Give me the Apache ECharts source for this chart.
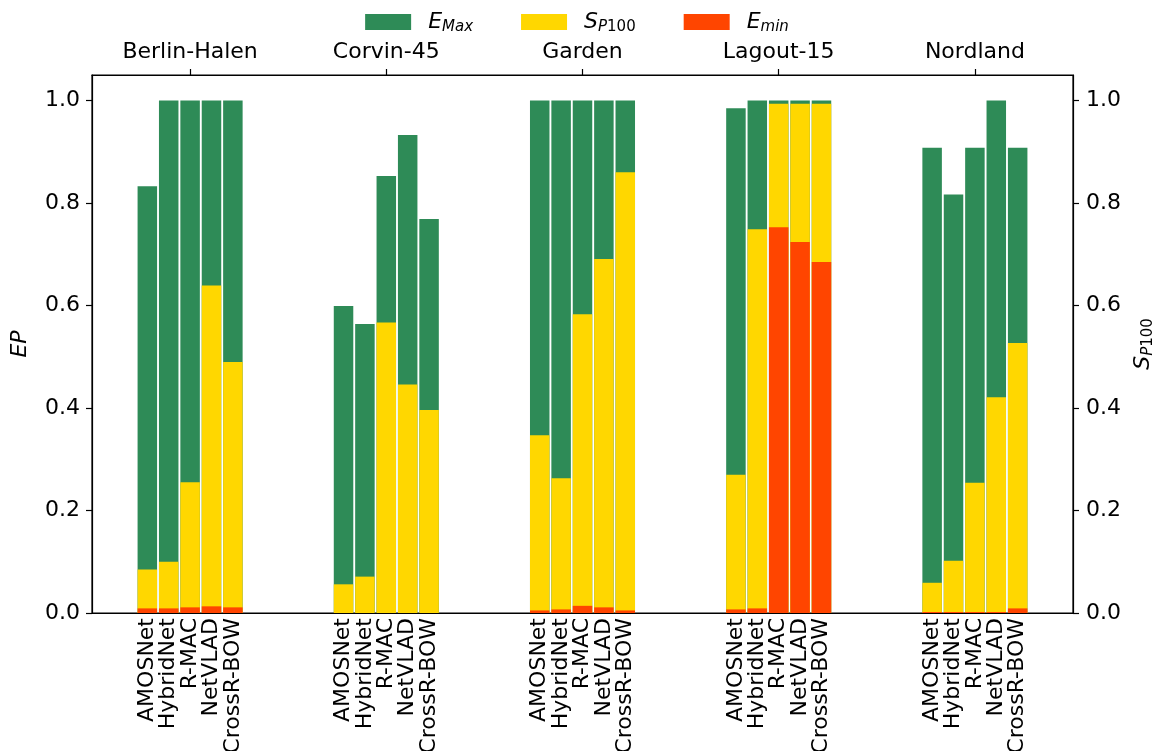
<!DOCTYPE html>
<html>
<head>
<meta charset="utf-8">
<script src="https://cdn.jsdelivr.net/npm/echarts@6/dist/echarts.min.js"></script>
<style>
  html, body { margin: 0; padding: 0; background: #fff; }
  #chart { width: 1154px; height: 751px; }
</style>
</head>
<body>
<div id="chart"></div>
<script>
const groups = ['Berlin-Halen', 'Corvin-45', 'Garden', 'Lagout-15', 'Nordland'];
const methods = ['AMOSNet', 'HybridNet', 'R-MAC', 'NetVLAD', 'CrossR-BOW'];

// one row per group, one value per method
const eMax = [
  [0.833, 1.0, 1.0, 1.0, 1.0],
  [0.599, 0.564, 0.853, 0.933, 0.769],
  [1.0, 1.0, 1.0, 1.0, 1.0],
  [0.985, 1.0, 1.0, 1.0, 1.0],
  [0.908, 0.817, 0.908, 1.0, 0.908]
];
const sP100 = [
  [0.085, 0.100, 0.255, 0.639, 0.490],
  [0.056, 0.071, 0.567, 0.446, 0.396],
  [0.347, 0.263, 0.583, 0.691, 0.860],
  [0.270, 0.749, 0.994, 0.994, 0.994],
  [0.059, 0.102, 0.254, 0.421, 0.527]
];
const eMin = [
  [0.009, 0.009, 0.011, 0.013, 0.011],
  [0, 0, 0, 0, 0],
  [0.005, 0.007, 0.014, 0.011, 0.005],
  [0.007, 0.009, 0.753, 0.724, 0.685],
  [0.002, 0.002, 0.002, 0.002, 0.009]
];
const yTicks = [0, 0.2, 0.4, 0.6, 0.8, 1.0];
const groupTicks = [0, 1, 2, 3, 4];

const FONT = 'DejaVu Sans';
const STEP = 0.109; // bar pitch inside a group, in group units

const positions = [];
groups.forEach((g, gi) => methods.forEach((m, mi) => positions.push(gi + (mi - 2) * STEP)));

// method labels are split over two bottom axes so echarts' min/max overlap check keeps them all
const posEven = positions.filter((p, k) => (k % 5) % 2 === 0);
const posOdd = positions.filter((p, k) => (k % 5) % 2 === 1);

const toPoints = rows => {
  const out = [];
  rows.forEach((row, gi) => row.forEach((v, mi) => out.push([positions[gi * 5 + mi], v])));
  return out;
};

// nearest bar position -> method name
const methodAt = v => {
  let best = -1, dist = 0.03;
  positions.forEach((p, k) => {
    if (Math.abs(p - v) < dist) { dist = Math.abs(p - v); best = k; }
  });
  return best < 0 ? '' : methods[best % 5];
};

const rich = {
  it: { fontFamily: FONT, fontSize: 22, fontStyle: 'italic', color: '#000' },
  sub: { fontFamily: FONT, fontSize: 15, fontStyle: 'italic', color: '#000', padding: [10, 0, 0, 0] },
  subn: { fontFamily: FONT, fontSize: 15, color: '#000', padding: [10, 0, 0, 0] }
};
const legendText = {
  'E_Max': '{it|E}{sub|Max}',
  'S_P100': '{it|S}{sub|P}{subn|100}',
  'E_min': '{it|E}{sub|min}'
};

const chart = echarts.init(document.getElementById('chart'));

const barBase = {
  type: 'bar',
  barWidth: 19.5,
  barGap: '-100%',
  xAxisIndex: 0,
  yAxisIndex: 0,
  animation: false
};

const black = { color: '#000', width: 1.2 };

const methodLabel = vals => ({
  customValues: vals,
  showMinLabel: true,
  showMaxLabel: true,
  rotate: 90,
  margin: 5,
  fontFamily: FONT,
  fontSize: 22,
  color: '#000',
  formatter: v => methodAt(v)
});

const yAxisBase = {
  type: 'value',
  min: 0,
  max: 1.05,
  splitLine: { show: false },
  axisLine: { show: true, onZero: false, lineStyle: black },
  axisTick: { show: true, length: 6, customValues: yTicks, lineStyle: black },
  nameLocation: 'middle',
  nameRotate: 90
};

const option = {
  backgroundColor: '#fff',
  grid: {
    left: 92, right: 81, top: 75, bottom: 138,
    outerBoundsMode: 'none',
    containLabel: false,
    show: true, borderColor: '#000', borderWidth: 1.2, backgroundColor: 'transparent'
  },
  legend: {
    top: 6,
    left: 'center',
    icon: 'rect',
    itemWidth: 46,
    itemHeight: 16,
    itemGap: 48,
    data: ['E_Max', 'S_P100', 'E_min'],
    formatter: name => legendText[name],
    textStyle: { fontFamily: FONT, fontSize: 22, color: '#000', padding: [0, 0, 0, 12], rich: rich }
  },
  xAxis: [
    {
      type: 'value',
      min: -0.5,
      max: 4.5,
      position: 'bottom',
      splitLine: { show: false },
      axisLine: { show: true, onZero: false, lineStyle: black },
      axisTick: { show: false },
      axisLabel: methodLabel(posEven)
    },
    {
      type: 'value',
      min: -0.5,
      max: 4.5,
      position: 'top',
      splitLine: { show: false },
      axisLine: { show: true, onZero: false, lineStyle: black },
      axisTick: { show: true, length: 6, customValues: groupTicks, lineStyle: black },
      axisLabel: {
        customValues: groupTicks,
        margin: 12,
        fontFamily: FONT,
        fontSize: 22,
        color: '#000',
        formatter: v => groups[Math.round(v)]
      }
    },
    {
      type: 'value',
      min: -0.5,
      max: 4.5,
      position: 'bottom',
      offset: 0,
      splitLine: { show: false },
      axisLine: { show: false, onZero: false },
      axisTick: { show: false },
      axisLabel: methodLabel(posOdd)
    }
  ],
  yAxis: [
    Object.assign({}, yAxisBase, {
      position: 'left',
      name: 'EP',
      nameGap: 61,
      nameTextStyle: { fontFamily: FONT, fontSize: 22, fontStyle: 'italic', color: '#000' },
      axisLabel: {
        customValues: yTicks, margin: 12, fontFamily: FONT, fontSize: 22, color: '#000',
        formatter: v => v.toFixed(1)
      }
    }),
    Object.assign({}, yAxisBase, {
      position: 'right',
      name: '{it|S}{sub|P}{subn|100}',
      nameGap: 49,
      nameTextStyle: { fontFamily: FONT, fontSize: 22, color: '#000', rich: rich },
      axisLabel: {
        customValues: yTicks, margin: 13, fontFamily: FONT, fontSize: 22, color: '#000',
        formatter: v => v.toFixed(1)
      }
    })
  ],
  series: [
    Object.assign({}, barBase, { name: 'E_Max', itemStyle: { color: '#2E8B57' }, data: toPoints(eMax) }),
    Object.assign({}, barBase, { name: 'S_P100', itemStyle: { color: '#FFD700' }, data: toPoints(sP100) }),
    Object.assign({}, barBase, { name: 'E_min', itemStyle: { color: '#FF4500' }, data: toPoints(eMin) })
  ]
};

chart.setOption(option);
</script>
</body>
</html>
